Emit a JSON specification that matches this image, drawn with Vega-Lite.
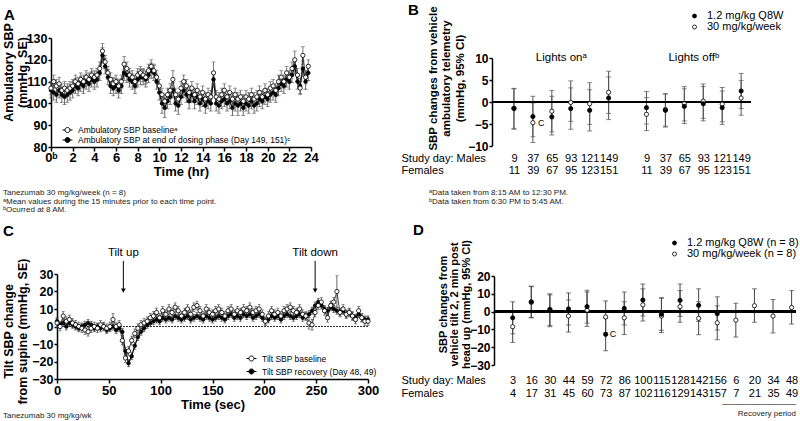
{
 "$schema": "https://vega.github.io/schema/vega-lite/v6.json",
 "padding": {"left": 2, "top": 3, "right": 0, "bottom": 0},
 "background": "white",
 "datasets": {
  "amb": [
   {"t":0,"b":107,"bse":3,"d":106,"dse":3.5},{"t":0.25,"b":110,"bse":3,"d":105,"dse":3.5},{"t":0.5,"b":108,"bse":3,"d":104,"dse":3.5},{"t":0.75,"b":109,"bse":3,"d":106,"dse":3.5},
   {"t":1,"b":106,"bse":3,"d":104,"dse":3.5},{"t":1.25,"b":107,"bse":3,"d":103,"dse":3.5},{"t":1.5,"b":106,"bse":3,"d":104,"dse":3.5},{"t":1.75,"b":107,"bse":3,"d":105,"dse":3.5},
   {"t":2,"b":108,"bse":3,"d":106,"dse":3.5},{"t":2.25,"b":110,"bse":3,"d":108,"dse":3.5},{"t":2.5,"b":109,"bse":3,"d":107,"dse":3.5},{"t":2.75,"b":111,"bse":3,"d":109,"dse":3.5},
   {"t":3,"b":110,"bse":3,"d":108,"dse":3.5},{"t":3.25,"b":112,"bse":3,"d":110,"dse":3.5},{"t":3.5,"b":111,"bse":3,"d":109,"dse":3.5},{"t":3.75,"b":113,"bse":3,"d":111,"dse":3.5},
   {"t":4,"b":112,"bse":3,"d":110,"dse":3.5},{"t":4.25,"b":113,"bse":3,"d":111,"dse":3.5},{"t":4.5,"b":116,"bse":3,"d":114,"dse":3.5},{"t":4.75,"b":124,"bse":3.5,"d":122,"dse":3.5},
   {"t":5,"b":119,"bse":3,"d":117,"dse":3.5},{"t":5.25,"b":114,"bse":3,"d":112,"dse":3.5},{"t":5.5,"b":111,"bse":3,"d":108,"dse":3.5},{"t":5.75,"b":109,"bse":3,"d":107,"dse":3.5},
   {"t":6,"b":110,"bse":3,"d":108,"dse":3.5},{"t":6.25,"b":108,"bse":3,"d":106,"dse":3.5},{"t":6.5,"b":110,"bse":3,"d":108,"dse":3.5},{"t":6.75,"b":118,"bse":3.5,"d":114,"dse":3.5},
   {"t":7,"b":116,"bse":3,"d":113,"dse":3.5},{"t":7.25,"b":113,"bse":3,"d":111,"dse":3.5},{"t":7.5,"b":112,"bse":3,"d":110,"dse":3.5},{"t":7.75,"b":110,"bse":3,"d":108,"dse":3.5},
   {"t":8,"b":113,"bse":3,"d":111,"dse":3.5},{"t":8.25,"b":114,"bse":3,"d":112,"dse":3.5},{"t":8.5,"b":113,"bse":3,"d":112,"dse":3.5},{"t":8.75,"b":112,"bse":3,"d":111,"dse":3.5},
   {"t":9,"b":115,"bse":3,"d":113,"dse":3.5},{"t":9.25,"b":117,"bse":3,"d":115,"dse":3.5},{"t":9.5,"b":115,"bse":3,"d":114,"dse":3.5},{"t":9.75,"b":112,"bse":3,"d":110,"dse":3.5},
   {"t":10,"b":108,"bse":3,"d":105,"dse":3.5},{"t":10.25,"b":104,"bse":3,"d":100,"dse":4.5},{"t":10.5,"b":101,"bse":3,"d":98,"dse":4.5},{"t":10.75,"b":104,"bse":3,"d":101,"dse":3.5},
   {"t":11,"b":106,"bse":3,"d":103,"dse":3.5},{"t":11.25,"b":111,"bse":4,"d":106,"dse":3.5},{"t":11.5,"b":104,"bse":3,"d":100,"dse":3.5},{"t":11.75,"b":102,"bse":3,"d":99,"dse":4},
   {"t":12,"b":107,"bse":3,"d":103,"dse":3.5},{"t":12.25,"b":110,"bse":3,"d":106,"dse":3.5},{"t":12.5,"b":108,"bse":3,"d":104,"dse":3.5},{"t":12.75,"b":105,"bse":3,"d":101,"dse":3.5},
   {"t":13,"b":107,"bse":3,"d":104,"dse":3.5},{"t":13.25,"b":104,"bse":3,"d":101,"dse":3.5},{"t":13.5,"b":106,"bse":3,"d":103,"dse":3.5},{"t":13.75,"b":103,"bse":3,"d":100,"dse":3.5},
   {"t":14,"b":105,"bse":3,"d":102,"dse":3.5},{"t":14.25,"b":102,"bse":3,"d":99,"dse":3.5},{"t":14.5,"b":104,"bse":3,"d":101,"dse":3.5},{"t":14.75,"b":103,"bse":3,"d":100,"dse":3.5},
   {"t":15,"b":114,"bse":5,"d":111,"dse":3.5},{"t":15.25,"b":103,"bse":3,"d":100,"dse":3.5},{"t":15.5,"b":102,"bse":3,"d":99,"dse":3.5},{"t":15.75,"b":104,"bse":3,"d":101,"dse":3.5},
   {"t":16,"b":106,"bse":3,"d":102,"dse":3.5},{"t":16.25,"b":103,"bse":3,"d":100,"dse":3.5},{"t":16.5,"b":105,"bse":3,"d":101,"dse":3.5},{"t":16.75,"b":102,"bse":3,"d":98,"dse":3.5},
   {"t":17,"b":104,"bse":3,"d":100,"dse":3.5},{"t":17.25,"b":102,"bse":3,"d":99,"dse":4.5},{"t":17.5,"b":103,"bse":3,"d":100,"dse":3.5},{"t":17.75,"b":101,"bse":3,"d":98,"dse":3.5},
   {"t":18,"b":103,"bse":3,"d":100,"dse":3.5},{"t":18.25,"b":102,"bse":3,"d":99,"dse":3.5},{"t":18.5,"b":104,"bse":3,"d":101,"dse":3.5},{"t":18.75,"b":102,"bse":3,"d":99,"dse":3.5},
   {"t":19,"b":103,"bse":3,"d":100,"dse":3.5},{"t":19.25,"b":105,"bse":3,"d":102,"dse":3.5},{"t":19.5,"b":103,"bse":3,"d":101,"dse":3.5},{"t":19.75,"b":106,"bse":3,"d":103,"dse":3.5},
   {"t":20,"b":104,"bse":3,"d":102,"dse":3.5},{"t":20.25,"b":107,"bse":3,"d":104,"dse":3.5},{"t":20.5,"b":108,"bse":3,"d":105,"dse":3.5},{"t":20.75,"b":106,"bse":3,"d":104,"dse":3.5},
   {"t":21,"b":110,"bse":3,"d":107,"dse":3.5},{"t":21.25,"b":112,"bse":3,"d":109,"dse":3.5},{"t":21.5,"b":110,"bse":3,"d":108,"dse":3.5},{"t":21.75,"b":114,"bse":3,"d":111,"dse":3.5},
   {"t":22,"b":112,"bse":3,"d":110,"dse":3.5},{"t":22.25,"b":116,"bse":3,"d":113,"dse":3.5},{"t":22.5,"b":120,"bse":4,"d":117,"dse":3.5},{"t":22.75,"b":113,"bse":3,"d":110,"dse":3.5},
   {"t":23,"b":107,"bse":3,"d":108,"dse":3.5},{"t":23.25,"b":122,"bse":4,"d":116,"dse":3.5},{"t":23.5,"b":112,"bse":3,"d":110,"dse":3.5},{"t":23.75,"b":117,"bse":3,"d":114,"dse":3.5}
  ],
  "tilt": [
   {"t":0,"b":2,"bse":2.5,"r":3,"rse":2},{"t":3,"b":0,"bse":2.5,"r":1,"rse":2},{"t":6,"b":6,"bse":2.5,"r":2,"rse":2},{"t":9,"b":3,"bse":2.5,"r":0,"rse":2},
   {"t":12,"b":4,"bse":2.5,"r":2,"rse":2},{"t":15,"b":2,"bse":2.5,"r":1,"rse":2},{"t":18,"b":1,"bse":2.5,"r":0,"rse":2},{"t":21,"b":0,"bse":2.5,"r":-1,"rse":2},
   {"t":24,"b":-1,"bse":2.5,"r":0,"rse":2},{"t":27,"b":-2,"bse":2.5,"r":1,"rse":2},{"t":30,"b":-3,"bse":2.5,"r":2,"rse":2},{"t":33,"b":-1,"bse":2.5,"r":1,"rse":2},
   {"t":36,"b":0,"bse":2.5,"r":-1,"rse":2},{"t":39,"b":-1,"bse":2.5,"r":0,"rse":2},{"t":42,"b":1,"bse":2.5,"r":-1,"rse":2},{"t":45,"b":0,"bse":2.5,"r":0,"rse":2},
   {"t":48,"b":-1,"bse":2.5,"r":-2,"rse":2},{"t":51,"b":0,"bse":2.5,"r":-1,"rse":2},{"t":54,"b":4,"bse":3.5,"r":0,"rse":2},{"t":57,"b":0,"bse":2.5,"r":-2,"rse":2},
   {"t":60,"b":1,"bse":2.5,"r":-1,"rse":2},{"t":63,"b":-8,"bse":2.5,"r":-3,"rse":2},{"t":66,"b":-18,"bse":2.5,"r":-14,"rse":2},{"t":69,"b":-14,"bse":2.5,"r":-21,"rse":2},
   {"t":72,"b":-8,"bse":2.5,"r":-17,"rse":2},{"t":75,"b":-4,"bse":2.5,"r":-11,"rse":2},{"t":78,"b":-1,"bse":2.5,"r":-6,"rse":2},{"t":81,"b":1,"bse":2.5,"r":-3,"rse":2},
   {"t":84,"b":2,"bse":2.5,"r":-1,"rse":2},{"t":87,"b":3,"bse":2.5,"r":1,"rse":2},{"t":90,"b":5,"bse":2.5,"r":2,"rse":2},{"t":93,"b":6,"bse":2.5,"r":3,"rse":2},
   {"t":96,"b":8,"bse":2.5,"r":4,"rse":2},{"t":99,"b":5,"bse":2.5,"r":3,"rse":2},{"t":102,"b":9,"bse":2.5,"r":5,"rse":2},{"t":105,"b":7,"bse":2.5,"r":4,"rse":2},
   {"t":108,"b":10,"bse":2.5,"r":5,"rse":2},{"t":111,"b":8,"bse":2.5,"r":4,"rse":2},{"t":114,"b":11,"bse":2.5,"r":6,"rse":2},{"t":117,"b":9,"bse":2.5,"r":5,"rse":2},
   {"t":120,"b":6,"bse":2.5,"r":4,"rse":2},{"t":123,"b":8,"bse":2.5,"r":5,"rse":2},{"t":126,"b":10,"bse":2.5,"r":6,"rse":2},{"t":129,"b":7,"bse":2.5,"r":4,"rse":2},
   {"t":132,"b":11,"bse":2.5,"r":5,"rse":2},{"t":135,"b":12,"bse":2.5,"r":6,"rse":2},{"t":138,"b":9,"bse":2.5,"r":5,"rse":2},{"t":141,"b":6,"bse":2.5,"r":4,"rse":2},
   {"t":144,"b":10,"bse":2.5,"r":6,"rse":2},{"t":147,"b":8,"bse":2.5,"r":5,"rse":2},{"t":150,"b":7,"bse":2.5,"r":4,"rse":2},{"t":153,"b":9,"bse":2.5,"r":5,"rse":2},
   {"t":156,"b":10,"bse":2.5,"r":6,"rse":2},{"t":159,"b":8,"bse":2.5,"r":5,"rse":2},{"t":162,"b":6,"bse":2.5,"r":4,"rse":2},{"t":165,"b":9,"bse":2.5,"r":6,"rse":2},
   {"t":168,"b":10,"bse":2.5,"r":7,"rse":2},{"t":171,"b":7,"bse":2.5,"r":5,"rse":2},{"t":174,"b":9,"bse":2.5,"r":6,"rse":2},{"t":177,"b":8,"bse":2.5,"r":5,"rse":2},
   {"t":180,"b":10,"bse":2.5,"r":7,"rse":2},{"t":183,"b":9,"bse":2.5,"r":6,"rse":2},{"t":186,"b":11,"bse":2.5,"r":7,"rse":2},{"t":189,"b":8,"bse":2.5,"r":5,"rse":2},
   {"t":192,"b":9,"bse":2.5,"r":6,"rse":2},{"t":195,"b":10,"bse":2.5,"r":7,"rse":2},{"t":198,"b":7,"bse":2.5,"r":5,"rse":2},{"t":201,"b":3,"bse":2.5,"r":3,"rse":2},
   {"t":204,"b":6,"bse":2.5,"r":4,"rse":2},{"t":207,"b":9,"bse":2.5,"r":6,"rse":2},{"t":210,"b":7,"bse":2.5,"r":5,"rse":2},{"t":213,"b":8,"bse":2.5,"r":6,"rse":2},
   {"t":216,"b":6,"bse":2.5,"r":4,"rse":2},{"t":219,"b":9,"bse":2.5,"r":6,"rse":2},{"t":222,"b":10,"bse":2.5,"r":7,"rse":2},{"t":225,"b":11,"bse":2.5,"r":6,"rse":2},
   {"t":228,"b":9,"bse":2.5,"r":5,"rse":2},{"t":231,"b":8,"bse":2.5,"r":6,"rse":2},{"t":234,"b":10,"bse":2.5,"r":7,"rse":2},{"t":237,"b":7,"bse":2.5,"r":5,"rse":2},
   {"t":240,"b":6,"bse":2.5,"r":6,"rse":2},{"t":243,"b":2,"bse":3.5,"r":7,"rse":2},{"t":246,"b":1,"bse":3,"r":9,"rse":2},{"t":249,"b":8,"bse":2.5,"r":12,"rse":2},
   {"t":252,"b":12,"bse":2.5,"r":14,"rse":2},{"t":255,"b":14,"bse":2.5,"r":12,"rse":2},{"t":258,"b":9,"bse":2.5,"r":10,"rse":2},{"t":261,"b":5,"bse":2.5,"r":9,"rse":2},
   {"t":264,"b":12,"bse":2.5,"r":11,"rse":2},{"t":267,"b":14,"bse":2.5,"r":10,"rse":2},{"t":270,"b":20,"bse":9,"r":9,"rse":2},{"t":273,"b":8,"bse":2.5,"r":8,"rse":2},
   {"t":276,"b":10,"bse":2.5,"r":9,"rse":2},{"t":279,"b":7,"bse":2.5,"r":7,"rse":2},{"t":282,"b":8,"bse":2.5,"r":8,"rse":2},{"t":285,"b":6,"bse":2.5,"r":6,"rse":2},
   {"t":288,"b":4,"bse":2.5,"r":5,"rse":2},{"t":291,"b":9,"bse":2.5,"r":7,"rse":2},{"t":294,"b":5,"bse":2.5,"r":5,"rse":2},{"t":297,"b":3,"bse":2.5,"r":4,"rse":2},
   {"t":300,"b":3,"bse":2.5,"r":4,"rse":2}
  ],
  "events": [
   {"event": "Tilt up", "t": 64},
   {"event": "Tilt down", "t": 249}
  ],
  "lights": [
   {"slot":"on|9|11","dose":"30 mg/kg/week","mean":-1.4,"lo":-6.0,"hi":3.0},
   {"slot":"on|37|39","dose":"30 mg/kg/week","mean":-4.7,"lo":-9.2,"hi":-0.2,"sig":"C"},
   {"slot":"on|65|67","dose":"30 mg/kg/week","mean":-2.1,"lo":-6.8,"hi":2.6},
   {"slot":"on|93|95","dose":"30 mg/kg/week","mean":-0.1,"lo":-4.4,"hi":4.8},
   {"slot":"on|121|123","dose":"30 mg/kg/week","mean":-0.4,"lo":-5.1,"hi":4.4},
   {"slot":"on|149|151","dose":"30 mg/kg/week","mean":2.2,"lo":-2.6,"hi":7.0},
   {"slot":"off|9|11","dose":"30 mg/kg/week","mean":-2.8,"lo":-6.5,"hi":1.0},
   {"slot":"off|37|39","dose":"30 mg/kg/week","mean":-1.7,"lo":-5.5,"hi":1.8},
   {"slot":"off|65|67","dose":"30 mg/kg/week","mean":-0.4,"lo":-4.3,"hi":3.5},
   {"slot":"off|93|95","dose":"30 mg/kg/week","mean":0.2,"lo":-3.7,"hi":4.1},
   {"slot":"off|121|123","dose":"30 mg/kg/week","mean":-0.5,"lo":-4.5,"hi":3.3},
   {"slot":"off|149|151","dose":"30 mg/kg/week","mean":0.9,"lo":-3.0,"hi":4.9},
   {"slot":"on|9|11","dose":"1.2 mg/kg Q8W","mean":-1.5,"lo":-6.2,"hi":3.1},
   {"slot":"on|37|39","dose":"1.2 mg/kg Q8W","mean":-3.3,"lo":-7.9,"hi":1.3},
   {"slot":"on|65|67","dose":"1.2 mg/kg Q8W","mean":-3.4,"lo":-7.5,"hi":1.3},
   {"slot":"on|93|95","dose":"1.2 mg/kg Q8W","mean":-1.5,"lo":-6.2,"hi":3.2},
   {"slot":"on|121|123","dose":"1.2 mg/kg Q8W","mean":-1.9,"lo":-6.6,"hi":2.8},
   {"slot":"on|149|151","dose":"1.2 mg/kg Q8W","mean":0.9,"lo":-4.0,"hi":5.7},
   {"slot":"off|9|11","dose":"1.2 mg/kg Q8W","mean":-1.3,"lo":-5.0,"hi":2.4},
   {"slot":"off|37|39","dose":"1.2 mg/kg Q8W","mean":-1.9,"lo":-5.7,"hi":1.9},
   {"slot":"off|65|67","dose":"1.2 mg/kg Q8W","mean":-1.0,"lo":-4.9,"hi":3.0},
   {"slot":"off|93|95","dose":"1.2 mg/kg Q8W","mean":-0.4,"lo":-4.3,"hi":3.5},
   {"slot":"off|121|123","dose":"1.2 mg/kg Q8W","mean":-1.3,"lo":-5.1,"hi":2.5},
   {"slot":"off|149|151","dose":"1.2 mg/kg Q8W","mean":2.5,"lo":-1.5,"hi":6.5}
  ],
  "tiltday": [
   {"slot":"3|4","dose":"30 mg/kg/week","mean":-8.5,"lo":-17.3,"hi":0.3},
   {"slot":"16|17","dose":"30 mg/kg/week","mean":5.2,"lo":-3.5,"hi":14.0},
   {"slot":"30|31","dose":"30 mg/kg/week","mean":1.3,"lo":-7.8,"hi":9.4},
   {"slot":"44|45","dose":"30 mg/kg/week","mean":-2.5,"lo":-11.5,"hi":6.5},
   {"slot":"59|60","dose":"30 mg/kg/week","mean":0.8,"lo":-8.3,"hi":11.0},
   {"slot":"72|73","dose":"30 mg/kg/week","mean":-3.0,"lo":-12.0,"hi":6.0},
   {"slot":"86|87","dose":"30 mg/kg/week","mean":-3.5,"lo":-12.8,"hi":5.5},
   {"slot":"100|102","dose":"30 mg/kg/week","mean":3.8,"lo":-5.3,"hi":12.8},
   {"slot":"115|116","dose":"30 mg/kg/week","mean":-2.5,"lo":-11.8,"hi":7.8},
   {"slot":"128|129","dose":"30 mg/kg/week","mean":2.8,"lo":-6.0,"hi":11.8},
   {"slot":"142|143","dose":"30 mg/kg/week","mean":-3.8,"lo":-13.0,"hi":5.5},
   {"slot":"156|157","dose":"30 mg/kg/week","mean":-6.3,"lo":-15.8,"hi":3.2},
   {"slot":"6|7","dose":"30 mg/kg/week","mean":-4.8,"lo":-14.3,"hi":4.7},
   {"slot":"20|21","dose":"30 mg/kg/week","mean":3.3,"lo":-6.0,"hi":12.8},
   {"slot":"34|35","dose":"30 mg/kg/week","mean":-2.5,"lo":-12.0,"hi":6.8},
   {"slot":"48|49","dose":"30 mg/kg/week","mean":2.3,"lo":-7.0,"hi":11.8},
   {"slot":"3|4","dose":"1.2 mg/kg Q8W","mean":-3.5,"lo":-12.5,"hi":5.5},
   {"slot":"16|17","dose":"1.2 mg/kg Q8W","mean":5.5,"lo":-3.3,"hi":14.3},
   {"slot":"30|31","dose":"1.2 mg/kg Q8W","mean":1.0,"lo":-8.5,"hi":10.0},
   {"slot":"44|45","dose":"1.2 mg/kg Q8W","mean":1.5,"lo":-7.5,"hi":10.5},
   {"slot":"59|60","dose":"1.2 mg/kg Q8W","mean":2.8,"lo":-6.5,"hi":12.0},
   {"slot":"72|73","dose":"1.2 mg/kg Q8W","mean":-12.8,"lo":-22.0,"hi":-3.6,"sig":"C"},
   {"slot":"86|87","dose":"1.2 mg/kg Q8W","mean":1.8,"lo":-7.5,"hi":11.0},
   {"slot":"100|102","dose":"1.2 mg/kg Q8W","mean":6.5,"lo":-2.5,"hi":15.5},
   {"slot":"115|116","dose":"1.2 mg/kg Q8W","mean":-1.5,"lo":-10.5,"hi":7.5},
   {"slot":"128|129","dose":"1.2 mg/kg Q8W","mean":6.3,"lo":-2.7,"hi":15.5},
   {"slot":"142|143","dose":"1.2 mg/kg Q8W","mean":3.5,"lo":-5.5,"hi":12.8},
   {"slot":"156|157","dose":"1.2 mg/kg Q8W","mean":-1.2,"lo":-10.3,"hi":8.3}
  ]
 },
 "config": {
  "font": "Liberation Sans",
  "view": {"stroke": null},
  "axis": {"grid": false, "domainColor": "black", "domainWidth": 1.5, "tickColor": "black", "tickWidth": 1.5, "tickSize": 3, "labelColor": "black", "titleColor": "black", "labelFontWeight": "bold", "titleFontWeight": "bold", "labelFontSize": 12.5, "titleFontSize": 13, "labelPadding": 1, "labelFlush": false, "labelOverlap": false},
  "legend": {"title": null, "labelColor": "black", "padding": 0, "labelLimit": 400, "orient": "none"},
  "title": {"color": "black", "anchor": "start", "frame": "group", "fontWeight": "bold"},
  "text": {"color": "black"}
 },
 "spacing": 236,
 "bounds": "flush",
 "resolve": {"scale": {"fill": "independent"}, "legend": {"fill": "independent"}},
 "vconcat": [
  {
   "spacing": 0,
   "bounds": "flush",
   "resolve": {"scale": {"fill": "independent"}, "legend": {"fill": "independent"}},
   "hconcat": [
    {"width": 1, "height": 1, "data": {"values": []}, "mark": "point", "title": {"text": "A", "fontSize": 15, "dx": -46, "offset": 3, "baseline": "alphabetic"}},
    {
     "width": 260,
     "height": 109,
     "data": {"name": "amb"},
     "title": {"text": ["Tanezumab 30 mg/kg/week (n = 8)", "ᵃMean values during the 15 minutes prior to each time point.", "ᵇOcurred at 8 AM."], "orient": "bottom", "fontSize": 8, "fontWeight": "normal", "lineHeight": 8.5, "dx": -48, "offset": 11, "color": "#222"},
     "resolve": {"axis": {"x": "independent", "y": "independent"}},
     "layer": [
      {
       "mark": {"type": "line", "color": "black", "strokeWidth": 1.2},
       "encoding": {
        "x": {"field": "t", "type": "quantitative", "title": "Time (hr)", "scale": {"domain": [0, 24], "nice": false}, "axis": {"values": [0,2,4,6,8,10,12,14,16,18,20,22,24], "labelExpr": "datum.value == 0 ? '0ᵇ' : datum.label", "labelFontSize": 13, "tickSize": 4, "labelPadding": 0, "titlePadding": 1, "labelOverlap": false}},
        "y": {"field": "d", "type": "quantitative", "title": ["Ambulatory SBP", "(mmHg, SE)"], "scale": {"domain": [80, 130], "nice": false}, "axis": {"values": [80,90,100,110,120,130], "labelOverlap": false, "labelSeparation": -50, "titleFontSize": 12.5, "titleLineHeight": 13.5, "titleX": -35.5, "titleY": 34, "titleBaseline": "bottom", "titleAlign": "center"}}
       }
      },
      {
       "mark": {"type": "errorbar", "color": "#444", "thickness": 0.8, "ticks": {"size": 4}},
       "encoding": {"x": {"field": "t", "type": "quantitative", "axis": null}, "y": {"field": "d", "type": "quantitative", "axis": null}, "yError": {"field": "dse"}}
      },
      {
       "mark": {"type": "errorbar", "color": "#555", "thickness": 0.8, "ticks": {"size": 4}},
       "encoding": {"x": {"field": "t", "type": "quantitative", "axis": null}, "y": {"field": "b", "type": "quantitative", "axis": null}, "yError": {"field": "bse"}}
      },
      {
       "mark": {"type": "line", "color": "#222", "strokeWidth": 0.8},
       "encoding": {"x": {"field": "t", "type": "quantitative", "axis": null}, "y": {"field": "b", "type": "quantitative", "axis": null}}
      },
      {
       "mark": {"type": "circle", "size": 14, "stroke": "black", "strokeWidth": 0.6, "opacity": 1},
       "encoding": {
        "x": {"field": "t", "type": "quantitative", "axis": null},
        "y": {"field": "d", "type": "quantitative", "axis": null},
        "fill": {"datum": "Ambulatory SBP at end of dosing phase (Day 149, 151)ᶜ", "type": "nominal", "scale": {"domain": ["Ambulatory SBP baselineᵃ", "Ambulatory SBP at end of dosing phase (Day 149, 151)ᶜ"], "range": ["white", "black"]}, "legend": {"orient": "none", "legendX": 11, "legendY": 86.5, "symbolType": "M-1,0H-0.5M0.5,0H1M0.5,0A0.5,0.5,0,1,1,-0.5,0A0.5,0.5,0,1,1,0.5,0Z", "symbolSize": 100, "symbolStrokeColor": "black", "symbolStrokeWidth": 1, "labelFontSize": 8.5, "labelOffset": 5, "rowPadding": -1}}
       }
      },
      {
       "mark": {"type": "circle", "size": 18, "stroke": "black", "strokeWidth": 0.8, "opacity": 1},
       "encoding": {
        "x": {"field": "t", "type": "quantitative", "axis": null},
        "y": {"field": "b", "type": "quantitative", "axis": null},
        "fill": {"datum": "Ambulatory SBP baselineᵃ", "type": "nominal"}
       }
      }
     ]
    },
    {"width": 181, "height": 1, "data": {"values": []}, "mark": "point", "title": {"text": "B", "fontSize": 15, "dx": 97, "offset": 8, "baseline": "alphabetic"}},
    {
     "spacing": 0,
     "bounds": "flush",
     "vconcat": [
      {"width": 1, "height": 20, "data": {"values": []}, "mark": "point"},
      {
       "width": 259,
       "height": 88,
       "data": {"name": "lights"},
       "title": {"text": ["ᵃData taken from 8:15 AM to 12:30 PM.", "ᵇData taken from 6:30 PM to 5:45 AM."], "orient": "bottom", "fontSize": 8, "fontWeight": "normal", "lineHeight": 9, "dx": -63, "offset": 14, "color": "#222"},
       "resolve": {"axis": {"x": "independent", "y": "independent"}},
       "layer": [
        {
         "mark": {"type": "rule", "color": "#555", "strokeWidth": 1},
         "encoding": {
          "x": {"field": "slot", "type": "ordinal", "title": ["Study day: Males", "\u00a0\u00a0\u00a0\u00a0\u00a0\u00a0\u00a0\u00a0\u00a0\u00a0\u00a0\u00a0\u00a0\u00a0\u00a0\u00a0\u00a0\u00a0Females"], "scale": {"type": "point", "domain": ["on|9|11","on|37|39","on|65|67","on|93|95","on|121|123","on|149|151","gap","off|9|11","off|37|39","off|65|67","off|93|95","off|121|123","off|149|151"], "padding": 0.84, "align": 0.69}, "axis": {"domain": false, "ticks": false, "tickSize": 0, "labelExpr": "datum.value == 'gap' ? '' : slice(split(datum.value, '|'), 1)", "labelFontWeight": "normal", "labelFontSize": 11, "labelLineHeight": 12, "labelPadding": 6, "labelAngle": 0, "labelBaseline": "top", "titleFontWeight": "normal", "titleFontSize": 11, "titleLineHeight": 12, "titleAlign": "left", "titleAnchor": "start", "titleX": -91, "titleY": 6, "titleBaseline": "top", "titleAngle": 0}},
          "y": {"field": "lo", "type": "quantitative", "title": ["SBP changes from vehicle", "ambulatory telemetry", "(mmHg, 95% CI)"], "scale": {"domain": [-10, 10], "nice": false}, "axis": {"values": [-10,-5,0,5,10], "labelOverlap": false, "labelSeparation": -50, "labelFontSize": 12, "titleFontSize": 11.5, "titleLineHeight": 13.5, "titleX": -54, "titleY": 20, "titleBaseline": "bottom", "titleAlign": "center"}},
          "y2": {"field": "hi"}
         }
        },
        {
         "mark": {"type": "tick", "color": "#555", "size": 5, "thickness": 1},
         "encoding": {"x": {"field": "slot", "type": "ordinal", "axis": null}, "y": {"field": "lo", "type": "quantitative", "axis": null}}
        },
        {
         "mark": {"type": "tick", "color": "#555", "size": 5, "thickness": 1},
         "encoding": {"x": {"field": "slot", "type": "ordinal", "axis": null}, "y": {"field": "hi", "type": "quantitative", "axis": null}}
        },
        {
         "mark": {"type": "rule", "color": "black", "strokeWidth": 1.8},
         "encoding": {"y": {"datum": 0, "type": "quantitative", "axis": null}}
        },
        {
         "mark": {"type": "circle", "size": 18, "stroke": "black", "strokeWidth": 0.8, "opacity": 1},
         "encoding": {
          "x": {"field": "slot", "type": "ordinal", "axis": null},
          "y": {"field": "mean", "type": "quantitative", "axis": null},
          "fill": {"field": "dose", "type": "nominal", "scale": {"domain": ["1.2 mg/kg Q8W", "30 mg/kg/week"], "range": ["black", "white"]}, "legend": {"orient": "none", "legendX": 197, "legendY": -27.5, "symbolType": "circle", "symbolSize": 16, "symbolStrokeColor": "black", "symbolStrokeWidth": 0.8, "labelFontSize": 11, "labelOffset": 7, "rowPadding": -1}}
         }
        },
        {
         "transform": [{"filter": "datum.sig"}],
         "mark": {"type": "text", "align": "left", "dx": 5, "fontSize": 9, "baseline": "middle"},
         "encoding": {"x": {"field": "slot", "type": "ordinal", "axis": null}, "y": {"field": "mean", "type": "quantitative", "axis": null}, "text": {"field": "sig"}}
        },
        {
         "data": {"values": [{}]},
         "mark": {"type": "text", "fontSize": 11.5, "dx": 9.5, "baseline": "middle"},
         "encoding": {"x": {"datum": "on|65|67", "type": "ordinal", "axis": null}, "y": {"datum": 10, "type": "quantitative", "axis": null}, "text": {"value": "Lights onᵃ"}}
        },
        {
         "data": {"values": [{}]},
         "mark": {"type": "text", "fontSize": 11.5, "dx": 9.5, "baseline": "middle"},
         "encoding": {"x": {"datum": "off|65|67", "type": "ordinal", "axis": null}, "y": {"datum": 10, "type": "quantitative", "axis": null}, "text": {"value": "Lights offᵇ"}}
        }
       ]
      }
     ]
    }
   ]
  },
  {
   "spacing": 0,
   "bounds": "flush",
   "resolve": {"scale": {"fill": "independent"}, "legend": {"fill": "independent"}},
   "hconcat": [
    {"width": 7, "height": 1, "data": {"values": []}, "mark": "point", "title": {"text": "C", "fontSize": 15, "dx": -47, "offset": 23, "baseline": "alphabetic"}},
    {
     "width": 311,
     "height": 105,
     "title": {"text": "Tanezumab 30 mg/kg/wk", "orient": "bottom", "fontSize": 8, "fontWeight": "normal", "dx": -54, "offset": 1, "color": "#222"},
     "resolve": {"axis": {"x": "independent", "y": "independent"}},
     "layer": [
      {
       "data": {"name": "tilt"},
       "resolve": {"axis": {"x": "independent", "y": "independent"}},
       "layer": [
        {
         "mark": {"type": "line", "color": "black", "strokeWidth": 1.2},
         "encoding": {
          "x": {"field": "t", "type": "quantitative", "title": "Time (sec)", "scale": {"domain": [0, 300], "nice": false}, "axis": {"values": [0,50,100,150,200,250,300], "labelOverlap": false, "labelFontSize": 13, "tickSize": 4, "labelPadding": 1, "titlePadding": 1}},
          "y": {"field": "r", "type": "quantitative", "title": ["Tilt SBP change", "from supine (mmHg, SE)"], "scale": {"domain": [-30, 30], "nice": false}, "axis": {"values": [-30,-20,-10,0,10,20,30], "labelOverlap": false, "labelSeparation": -50, "titleFontSize": 12.5, "titleLineHeight": 13.5, "titleX": -41.5, "titleY": 57, "titleBaseline": "bottom", "titleAlign": "center"}}
         }
        },
        {
         "mark": {"type": "rule", "color": "#333", "strokeWidth": 1, "strokeDash": [1.5, 1.5]},
         "encoding": {"y": {"datum": 0, "type": "quantitative", "axis": null}}
        },
        {
         "mark": {"type": "errorbar", "color": "#333", "thickness": 0.8, "ticks": {"size": 3}},
         "encoding": {"x": {"field": "t", "type": "quantitative", "axis": null}, "y": {"field": "r", "type": "quantitative", "axis": null}, "yError": {"field": "rse"}}
        },
        {
         "mark": {"type": "errorbar", "color": "#444", "thickness": 0.8, "ticks": {"size": 3}},
         "encoding": {"x": {"field": "t", "type": "quantitative", "axis": null}, "y": {"field": "b", "type": "quantitative", "axis": null}, "yError": {"field": "bse"}}
        },
        {
         "mark": {"type": "line", "color": "#222", "strokeWidth": 0.8},
         "encoding": {"x": {"field": "t", "type": "quantitative", "axis": null}, "y": {"field": "b", "type": "quantitative", "axis": null}}
        },
        {
         "mark": {"type": "circle", "size": 14, "stroke": "black", "strokeWidth": 0.6, "opacity": 1},
         "encoding": {
          "x": {"field": "t", "type": "quantitative", "axis": null},
          "y": {"field": "r", "type": "quantitative", "axis": null},
          "fill": {"datum": "Tilt SBP recovery (Day 48, 49)", "type": "nominal", "scale": {"domain": ["Tilt SBP baseline", "Tilt SBP recovery (Day 48, 49)"], "range": ["white", "black"]}, "legend": {"orient": "none", "legendX": 189, "legendY": 79, "symbolType": "M-1,0H-0.5M0.5,0H1M0.5,0A0.5,0.5,0,1,1,-0.5,0A0.5,0.5,0,1,1,0.5,0Z", "symbolSize": 100, "symbolStrokeColor": "black", "symbolStrokeWidth": 1, "labelFontSize": 8.5, "labelOffset": 5, "rowPadding": 3}}
         }
        },
        {
         "mark": {"type": "circle", "size": 18, "stroke": "black", "strokeWidth": 0.8, "opacity": 1},
         "encoding": {
          "x": {"field": "t", "type": "quantitative", "axis": null},
          "y": {"field": "b", "type": "quantitative", "axis": null},
          "fill": {"datum": "Tilt SBP baseline", "type": "nominal"}
         }
        }
       ]
      },
      {
       "data": {"name": "events"},
       "resolve": {"axis": {"x": "independent", "y": "independent"}},
       "layer": [
        {
         "mark": {"type": "rule", "color": "black", "strokeWidth": 1},
         "encoding": {"x": {"field": "t", "type": "quantitative", "axis": null}, "y": {"datum": 37.5, "type": "quantitative", "axis": null}, "y2": {"datum": 21.5}}
        },
        {
         "mark": {"type": "point", "shape": "triangle-down", "filled": true, "color": "black", "size": 22, "opacity": 1},
         "encoding": {"x": {"field": "t", "type": "quantitative", "axis": null}, "y": {"datum": 20.5, "type": "quantitative", "axis": null}}
        },
        {
         "mark": {"type": "text", "fontSize": 11.5, "baseline": "middle"},
         "encoding": {"x": {"field": "t", "type": "quantitative", "axis": null}, "y": {"datum": 42, "type": "quantitative", "axis": null}, "text": {"field": "event"}}
        }
       ]
      }
     ]
    },
    {"width": 126, "height": 1, "data": {"values": []}, "mark": "point", "title": {"text": "D", "fontSize": 15, "dx": 45, "offset": 24, "baseline": "alphabetic"}},
    {
     "spacing": 0,
     "bounds": "flush",
     "vconcat": [
      {"width": 1, "height": 2, "data": {"values": []}, "mark": "point"},
      {
       "width": 302,
       "height": 89,
       "data": {"name": "tiltday"},
       "title": {"text": ["─────────────", "Recovery period"], "orient": "bottom", "anchor": "end", "fontSize": 8, "fontWeight": "normal", "lineHeight": 9, "offset": 3, "color": "#222"},
       "resolve": {"axis": {"x": "independent", "y": "independent"}},
       "layer": [
        {
         "mark": {"type": "rule", "color": "#444", "strokeWidth": 1},
         "encoding": {
          "x": {"field": "slot", "type": "ordinal", "title": ["Study day: Males", "\u00a0\u00a0\u00a0\u00a0\u00a0\u00a0\u00a0\u00a0\u00a0\u00a0\u00a0\u00a0\u00a0\u00a0\u00a0\u00a0\u00a0\u00a0Females"], "scale": {"type": "point", "domain": ["3|4","16|17","30|31","44|45","59|60","72|73","86|87","100|102","115|116","128|129","142|143","156|157","6|7","20|21","34|35","48|49"], "padding": 0.62, "align": 0.81}, "axis": {"domain": false, "ticks": false, "tickSize": 0, "labelExpr": "split(datum.value, '|')", "labelFontWeight": "normal", "labelFontSize": 11, "labelLineHeight": 12.5, "labelPadding": 9.5, "labelAngle": 0, "labelBaseline": "top", "titleFontWeight": "normal", "titleFontSize": 11, "titleLineHeight": 12.5, "titleAlign": "left", "titleAnchor": "start", "titleX": -93, "titleY": 9.5, "titleBaseline": "top", "titleAngle": 0}},
          "y": {"field": "lo", "type": "quantitative", "title": ["SBP changes from", "vehicle tilt 2, 2 min post", "head up (mmHg, 95% CI)"], "scale": {"domain": [-30, 20], "nice": false}, "axis": {"values": [-30,-20,-10,0,10,20], "labelOverlap": false, "labelSeparation": -50, "labelFontSize": 12, "titleFontSize": 11, "titleLineHeight": 11.5, "titleX": -46, "titleY": 28, "titleBaseline": "bottom", "titleAlign": "center"}},
          "y2": {"field": "hi"}
         }
        },
        {
         "mark": {"type": "tick", "color": "#444", "size": 5, "thickness": 1},
         "encoding": {"x": {"field": "slot", "type": "ordinal", "axis": null}, "y": {"field": "lo", "type": "quantitative", "axis": null}}
        },
        {
         "mark": {"type": "tick", "color": "#444", "size": 5, "thickness": 1},
         "encoding": {"x": {"field": "slot", "type": "ordinal", "axis": null}, "y": {"field": "hi", "type": "quantitative", "axis": null}}
        },
        {
         "mark": {"type": "rule", "color": "black", "strokeWidth": 1.8},
         "encoding": {"y": {"datum": 0, "type": "quantitative", "axis": null}}
        },
        {
         "mark": {"type": "circle", "size": 18, "stroke": "black", "strokeWidth": 0.8, "opacity": 1},
         "encoding": {
          "x": {"field": "slot", "type": "ordinal", "axis": null},
          "y": {"field": "mean", "type": "quantitative", "axis": null},
          "fill": {"field": "dose", "type": "nominal", "scale": {"domain": ["1.2 mg/kg Q8W", "30 mg/kg/week"], "range": ["black", "white"]}, "legend": {"orient": "none", "legendX": 175, "legendY": -36.5, "symbolType": "circle", "symbolSize": 16, "symbolStrokeColor": "black", "symbolStrokeWidth": 0.8, "labelFontSize": 11, "labelOffset": 7, "rowPadding": -2, "labelExpr": "datum.label + ' (n = 8)'"}}
         }
        },
        {
         "transform": [{"filter": "datum.sig"}],
         "mark": {"type": "text", "align": "left", "dx": 4, "fontSize": 9, "baseline": "middle"},
         "encoding": {"x": {"field": "slot", "type": "ordinal", "axis": null}, "y": {"field": "mean", "type": "quantitative", "axis": null}, "text": {"field": "sig"}}
        }
       ]
      }
     ]
    }
   ]
  }
 ]
}
